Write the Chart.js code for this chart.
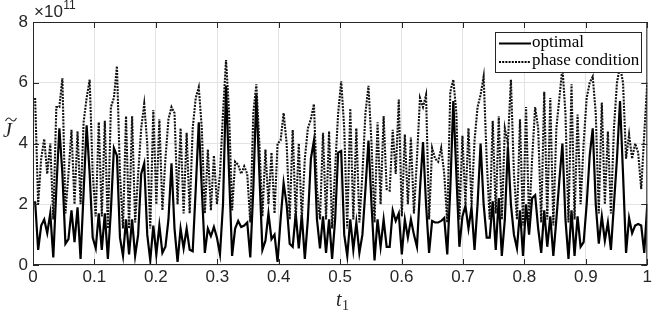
<!DOCTYPE html>
<html>
<head>
<meta charset="utf-8">
<script src="https://cdn.jsdelivr.net/npm/chart.js@4/dist/chart.umd.min.js"></script>
<style>
  html, body { margin: 0; padding: 0; background: #fff; }
  #wrap { width: 654px; height: 312px; position: relative; }
</style>
</head>
<body>
<div id="wrap"><canvas id="c" width="654" height="312"></canvas></div>
<script>
// values in units of 1e11
const optimal = [
  2.1,0.5,1.3,1.5,1.05,1.7,0.25,2.5,4.5,3.0,
  0.7,0.85,1.8,0.75,1.9,0.2,2.4,4.6,3.0,0.9,
  0.55,1.7,0.5,1.7,0.2,1.8,3.85,3.6,0.9,0.3,
  1.5,0.35,1.5,0.3,1.0,3.0,3.35,1.0,0.15,1.3,
  0.35,1.3,0.4,0.6,1.5,3.35,1.2,0.1,1.2,0.55,
  1.2,0.5,0.45,2.5,4.7,2.5,0.4,1.2,0.95,1.25,
  0.9,0.35,2.0,5.9,3.0,0.3,1.2,1.45,1.25,1.3,
  1.4,0.25,2.5,5.6,3.0,0.5,0.8,1.7,0.85,1.0,
  0.1,1.5,2.7,2.0,0.7,0.6,1.7,0.55,1.65,0.2,
  1.5,3.5,4.1,1.5,0.55,1.6,0.4,1.5,0.2,1.5,
  3.7,3.75,1.0,0.3,1.5,0.5,1.4,0.4,1.0,2.5,
  4.1,2.0,0.15,1.5,0.6,1.5,0.6,0.6,1.8,1.45,
  1.7,0.35,1.5,0.9,1.5,1.0,0.6,2.5,4.05,2.0,
  0.4,1.45,1.4,1.4,1.45,1.55,0.35,2.5,5.4,3.0,
  0.6,1.6,1.95,1.2,1.9,0.5,2.0,4.0,2.0,0.9,
  0.9,2.1,0.5,2.2,0.3,1.5,3.9,2.0,1.0,0.55,
  1.8,0.3,2.0,1.0,2.2,2.3,1.2,0.4,1.8,0.6,
  1.6,0.3,1.5,2.8,4.0,1.5,0.2,1.8,0.3,1.6,
  0.6,0.75,2.0,3.6,4.5,2.0,0.7,1.6,0.8,1.4,
  0.5,2.0,3.5,5.4,3.0,0.4,1.55,1.05,1.3,1.35,
  1.3,0.4,2.0
];
const phaseCondition = [
  5.5,2.0,3.5,4.15,3.0,4.0,1.5,5.2,5.2,6.15,
  1.7,3.0,4.45,2.0,4.4,2.0,4.7,5.5,6.1,3.0,
  1.6,4.7,1.6,4.75,1.2,5.2,5.5,6.55,3.0,1.2,
  4.9,1.2,4.9,1.4,3.0,4.5,5.3,4.0,1.2,5.1,
  2.0,4.8,1.8,3.5,4.8,5.2,5.0,2.0,4.5,1.7,
  4.35,1.7,4.5,5.5,5.85,4.5,1.7,3.8,1.8,3.6,
  2.0,3.0,5.0,6.75,5.0,1.8,3.4,3.3,3.0,3.25,
  3.0,1.4,5.0,5.95,4.0,1.6,3.8,2.0,3.7,1.7,
  4.0,4.1,5.0,4.0,1.5,4.45,1.5,4.0,1.5,3.5,
  4.5,4.8,5.3,2.5,1.5,4.35,1.5,4.4,1.2,3.2,
  5.0,6.05,4.5,1.2,5.15,1.5,4.5,1.4,3.0,5.0,
  5.9,4.0,1.4,4.7,2.0,4.9,2.5,2.45,4.45,3.0,
  5.45,1.6,4.3,2.0,4.2,1.7,3.5,5.5,5.2,5.6,
  1.5,3.85,3.5,3.4,3.85,3.0,1.4,5.7,6.1,5.0,
  1.5,4.25,2.0,4.5,2.0,4.1,5.2,5.6,6.2,3.5,
  1.5,4.75,1.7,4.9,1.5,4.5,4.0,6.1,3.0,1.5,
  4.8,1.3,5.2,1.4,3.5,5.2,4.5,1.4,5.7,1.5,
  5.5,1.3,4.5,5.5,6.5,5.0,1.4,5.95,1.5,4.95,
  2.0,4.0,5.5,6.0,6.2,5.0,1.7,5.35,2.0,4.4,
  1.7,4.5,6.0,6.55,6.0,3.5,4.3,3.5,4.0,3.7,
  2.5,4.3,6.0
];
// sampling grid of t1 (evenly spaced samples ending at 1)
const t1 = optimal.map((_, i) => (i + 0.7) / (optimal.length - 0.3));
const xTickLabels = ['0','0.1','0.2','0.3','0.4','0.5','0.6','0.7','0.8','0.9','1'];
const yTickLabels = ['0','2','4','6','8'];
const seriesNames = ['optimal', 'phase condition'];

const AX_L = 33, AX_R = 651, AX_T = 22, AX_B = 265;

const deco = {
  id: 'deco',
  afterDraw(chart) {
    const ctx = chart.ctx, a = chart.chartArea;
    const xs = chart.scales.x, ys = chart.scales.y;
    ctx.save();
    // frame
    ctx.strokeStyle = '#262626';
    ctx.lineWidth = 1;
    ctx.strokeRect(a.left + 0.5, a.top + 0.5, a.right - a.left - 1, a.bottom - a.top - 1);
    // inward ticks
    ctx.beginPath();
    xs.ticks.forEach(t => {
      const x = Math.round(xs.getPixelForValue(t.value)) + 0.5;
      ctx.moveTo(x, a.bottom); ctx.lineTo(x, a.bottom - 6);
      ctx.moveTo(x, a.top); ctx.lineTo(x, a.top + 6);
    });
    ys.ticks.forEach(t => {
      const y = Math.round(ys.getPixelForValue(t.value)) + 0.5;
      ctx.moveTo(a.left, y); ctx.lineTo(a.left + 6, y);
      ctx.moveTo(a.right, y); ctx.lineTo(a.right - 6, y);
    });
    ctx.stroke();
    // exponent label
    ctx.fillStyle = '#262626';
    ctx.textBaseline = 'alphabetic';
    ctx.textAlign = 'left';
    ctx.font = '17px "Liberation Sans", Arial, sans-serif';
    ctx.fillText('\u00d710', 34, 17);
    const w = ctx.measureText('\u00d710').width;
    ctx.font = '12px "Liberation Sans", Arial, sans-serif';
    ctx.fillText('11', 34 + w + 0.5, 9);
    // x title t_1
    ctx.fillStyle = '#262626';
    ctx.font = 'italic 20px "Liberation Serif", "DejaVu Serif", serif';
    ctx.fillText('t', 336, 306);
    ctx.font = '14px "Liberation Serif", "DejaVu Serif", serif';
    ctx.fillText('1', 342, 310);
    // y title J with tilde accent
    ctx.font = 'italic 20px "Liberation Serif", "DejaVu Serif", serif';
    ctx.fillText('J', 3, 137);
    ctx.strokeStyle = '#262626';
    ctx.lineWidth = 1.1;
    ctx.beginPath();
    ctx.moveTo(5.5, 121);
    ctx.bezierCurveTo(7.5, 117, 9.5, 117.5, 11, 119.5);
    ctx.bezierCurveTo(12.5, 121.5, 14.5, 122, 16.5, 118);
    ctx.stroke();
    // legend
    const lx = 495, ly = 32.5, lw = 146, lh = 40;
    ctx.fillStyle = '#ffffff';
    ctx.fillRect(lx, ly, lw, lh);
    ctx.strokeStyle = '#262626';
    ctx.lineWidth = 1;
    ctx.strokeRect(lx + 0.5, ly, lw, lh);
    ctx.strokeStyle = '#000';
    ctx.lineWidth = 2;
    ctx.beginPath(); ctx.moveTo(499, 43.5); ctx.lineTo(531, 43.5); ctx.stroke();
    ctx.setLineDash([2, 1.2]);
    ctx.beginPath(); ctx.moveTo(499, 62); ctx.lineTo(531, 62); ctx.stroke();
    ctx.setLineDash([]);
    ctx.fillStyle = '#000';
    ctx.font = '17px "Liberation Serif", "DejaVu Serif", serif';
    ctx.textBaseline = 'middle';
    ctx.fillText(seriesNames[0], 532, 43);
    ctx.fillText(seriesNames[1], 532, 61);
    ctx.restore();
  }
};

new Chart(document.getElementById('c'), {
  type: 'line',
  data: {
    datasets: [
      {
        label: seriesNames[0],
        data: t1.map((x, i) => ({ x, y: optimal[i] })),
        borderColor: '#000',
        borderWidth: 2.2,
        pointRadius: 0,
        tension: 0,
        order: 1
      },
      {
        label: seriesNames[1],
        data: t1.map((x, i) => ({ x, y: phaseCondition[i] })),
        borderColor: '#111',
        borderWidth: 2.1,
        borderDash: [2, 1.2],
        pointRadius: 0,
        tension: 0,
        order: 0
      }
    ]
  },
  options: {
    responsive: false,
    animation: false,
    layout: { padding: { top: AX_T, right: 654 - AX_R, left: 0, bottom: 0 } },
    plugins: { legend: { display: false }, tooltip: { enabled: false } },
    scales: {
      x: {
        type: 'linear', min: 0, max: 1,
        afterBuildTicks: s => { s.ticks = xTickLabels.map(l => ({ value: parseFloat(l) })); },
        afterFit: s => { s.height = 312 - AX_B; },
        grid: { color: '#e3e3e3', drawTicks: false, lineWidth: 1 },
        border: { display: false },
        ticks: {
          padding: 2, color: '#262626',
          font: { family: '"Liberation Sans", Arial, sans-serif', size: 17 },
          maxRotation: 0, autoSkip: false,
          callback: (v, i) => xTickLabels[i]
        }
      },
      y: {
        type: 'linear', min: 0, max: 8,
        afterBuildTicks: s => { s.ticks = yTickLabels.map(l => ({ value: parseFloat(l) })); },
        afterFit: s => { s.width = AX_L; },
        grid: { color: '#e3e3e3', drawTicks: false, lineWidth: 1 },
        border: { display: false },
        ticks: {
          padding: 5, color: '#262626',
          font: { family: '"Liberation Sans", Arial, sans-serif', size: 17 },
          callback: (v, i) => yTickLabels[i]
        }
      }
    }
  },
  plugins: [deco]
});
</script>
</body>
</html>
